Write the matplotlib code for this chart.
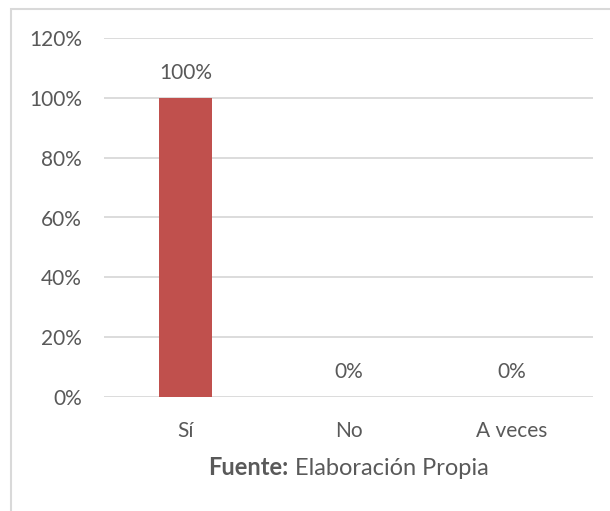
import matplotlib.pyplot as plt
from matplotlib.patches import Rectangle
from matplotlib.ticker import PercentFormatter

# Datos
categorias = ['Sí', 'No', 'A veces']
porcentajes = [100, 0, 0]
ticks_y = [0, 20, 40, 60, 80, 100, 120]

color_barra = '#C0504D'
color_texto = '#595959'
color_rejilla = '#D9D9D9'
fuente = 15
fuente_titulo = 17

plt.rcParams['font.family'] = ['Lato', 'DejaVu Sans']

fig = plt.figure(figsize=(6.10, 5.11), dpi=100)
fig.patch.set_facecolor('white')

# Marco del gráfico
fig.patches.append(Rectangle((11 / 610, -0.1), 1.2, 1 - 9 / 511 + 0.1,
                             transform=fig.transFigure, fill=False,
                             edgecolor=color_rejilla, linewidth=1.5))

ax = fig.add_axes([104 / 610, 1 - 397 / 511, 489 / 610, 359 / 511])
x = range(len(categorias))
barras = ax.bar(x, porcentajes, width=0.32, color=color_barra, zorder=3)

ax.set_xlim(-0.5, len(categorias) - 0.5)
ax.set_ylim(0, 120)
ax.set_yticks(ticks_y)
ax.yaxis.set_major_formatter(PercentFormatter(decimals=0))
ax.set_xticks(list(x))
ax.set_xticklabels(categorias)
ax.grid(axis='y', color=color_rejilla, linewidth=1.3, zorder=0)
ax.tick_params(length=0, labelsize=fuente, colors=color_texto)
ax.tick_params(axis='y', pad=16)
ax.tick_params(axis='x', pad=17)
for lado in ax.spines.values():
    lado.set_visible(False)

# Etiquetas de valor
for rect, valor in zip(barras, porcentajes):
    ax.annotate(f'{valor}%', xy=(rect.get_x() + rect.get_width() / 2, valor),
                xytext=(0, 11), textcoords='offset points', ha='center',
                va='bottom', fontsize=fuente, color=color_texto)

# Título del eje: parte en negrita y parte normal, centrado bajo el eje
y_titulo = 1 - 475 / 511
t1 = fig.text(0, y_titulo, 'Fuente:', fontsize=fuente_titulo, fontweight='bold',
              color=color_texto, va='baseline', ha='left')
t2 = fig.text(0, y_titulo, ' Elaboración Propia', fontsize=fuente_titulo,
              color=color_texto, va='baseline', ha='left')
r = fig.canvas.get_renderer()
w1 = t1.get_window_extent(r).width
w2 = t2.get_window_extent(r).width
centro = (104 + 489 / 2)
x0 = centro - (w1 + w2) / 2
t1.set_x(x0 / 610)
t2.set_x((x0 + w1) / 610)

plt.savefig('out.png', dpi=100)
